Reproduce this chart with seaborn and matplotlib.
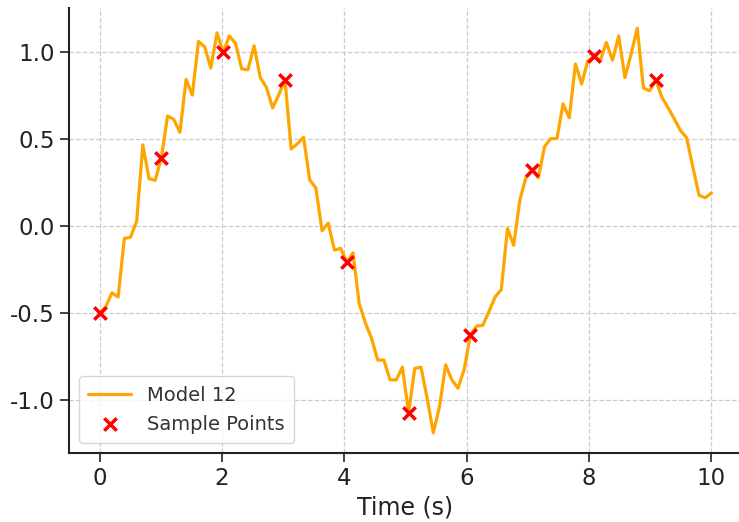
import numpy as np
import pandas as pd
import seaborn as sns
import matplotlib.pyplot as plt

# time grid of the model curve (100 samples from 0 to 10 s)
time = np.linspace(0, 10, 100)

model_12 = [
    -0.50, -0.466, -0.386, -0.41, -0.074, -0.067, 0.025, 0.464, 0.27, 0.26,
    0.39, 0.63, 0.61, 0.536, 0.84, 0.75, 1.058, 1.027, 0.905, 1.107,
    0.995, 1.09, 1.046, 0.90, 0.895, 1.033, 0.85, 0.794, 0.676, 0.752,
    0.836, 0.44, 0.47, 0.508, 0.263, 0.216, -0.03, 0.015, -0.141, -0.13,
    -0.21, -0.157, -0.447, -0.558, -0.647, -0.772, -0.772, -0.886, -0.886, -0.813,
    -1.075, -0.82, -0.813, -0.99, -1.19, -1.04, -0.80, -0.886, -0.934, -0.825,
    -0.628, -0.577, -0.573, -0.494, -0.41, -0.367, -0.017, -0.113, 0.145, 0.279,
    0.32, 0.275, 0.454, 0.50, 0.50, 0.699, 0.619, 0.928, 0.813, 0.947,
    0.975, 0.947, 1.052, 0.95, 1.09, 0.85, 0.985, 1.134, 0.79, 0.775,
    0.836, 0.737, 0.676, 0.613, 0.546, 0.504, 0.336, 0.174, 0.16, 0.187,
]

# every tenth point of the curve is marked as a sample
sample_time = time[::10]
sample_values = model_12[::10]

df_line = pd.DataFrame({"time": time, "value": model_12})
df_samples = pd.DataFrame({"time": sample_time, "value": sample_values})

sns.set_theme(style="ticks")
plt.rcParams["font.family"] = ["DejaVu Sans"]

fig = plt.figure(figsize=(7.39, 5.22), dpi=100)
ax = fig.add_axes([69 / 739, 69 / 522, (742 - 69) / 739, (453 - 8) / 522])

sns.lineplot(df_line, x="time", y="value", color="#FFA500", linewidth=2.3,
             label="Model 12", ax=ax)
sns.scatterplot(df_samples, x="time", y="value", color="red", marker="x",
                s=80, linewidth=2.5, label="Sample Points", ax=ax, zorder=3)

ax.set_xlim(-0.5, 10.5)
ax.set_ylim(-1.306, 1.25)
ax.set_xticks([0, 2, 4, 6, 8, 10])
ax.set_yticks([-1.0, -0.5, 0.0, 0.5, 1.0])
ax.set_yticklabels(["-1.0", "-0.5", "0.0", "0.5", "1.0"])

ax.grid(True, linestyle="--", color="#cccccc", linewidth=0.9)
ax.set_axisbelow(True)
sns.despine(ax=ax)
for side in ["left", "bottom"]:
    ax.spines[side].set_linewidth(1.5)
    ax.spines[side].set_color("#222222")
ax.tick_params(axis="both", labelsize=16.5, length=6.5, width=1.2, colors="#222222")

ax.set_xlabel("Time (s)", fontsize=17, color="#222222")
ax.set_ylabel("")

leg = ax.legend(loc="lower left", fontsize=14, frameon=True, borderpad=0.5,
                handlelength=2.2)
leg.get_frame().set_edgecolor("#cccccc")
leg.get_frame().set_linewidth(1.0)
for t in leg.get_texts():
    t.set_color("#333333")

plt.savefig("out.png", dpi=100)
